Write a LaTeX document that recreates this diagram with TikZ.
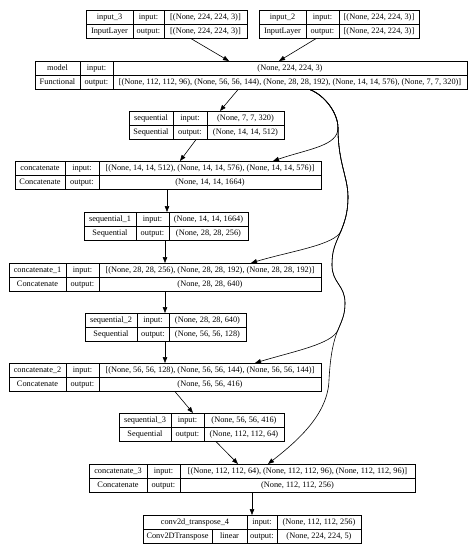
\documentclass[tikz,border=0pt]{standalone}
\usepackage{fontspec}
\setmainfont{Liberation Serif}
\usetikzlibrary{arrows.meta,calc}
\tikzset{
  frame/.style={draw=black, line width=0.6pt, fill=white, inner sep=0pt},
  cell/.style={inner sep=0pt, text height=6pt, text depth=2pt, font=\fontsize{8.3}{10}\selectfont},
  rule/.style={line width=0.6pt},
  edge/.style={line width=0.6pt, -{Triangle[length=6pt,width=4.5pt]}},
}
\def\layerparse#1,#2,#3,#4,#5\relax{\def\xa{#1}\def\xb{#2}\def\xc{#3}\def\xd{#4}\def\yt{#5}}
\newcommand\layer[6]{%
  \layerparse#2\relax
  \node[frame, minimum width={(\xd-\xa)*1pt}, minimum height=28pt, anchor=north west] (#1) at (\xa,\yt) {};
  \draw[rule] (\xb,\yt) -- (\xb,\yt+28) (\xc,\yt) -- (\xc,\yt+28) (\xa,\yt+14) -- (\xd,\yt+14);
  \node[cell] (#1-n) at ({(\xa+\xb)/2},\yt+7) {#3};
  \node[cell] (#1-t) at ({(\xa+\xb)/2},\yt+21) {#4};
  \node[cell] (#1-i) at ({(\xb+\xc)/2},\yt+7) {input:};
  \node[cell] (#1-o) at ({(\xb+\xc)/2},\yt+21) {output:};
  \node[cell] (#1-iv) at ({(\xc+\xd)/2},\yt+7) {#5};
  \node[cell] (#1-ov) at ({(\xc+\xd)/2},\yt+21) {#6};
}
\begin{document}
\begin{tikzpicture}[x=1pt,y=-1pt]
\useasboundingbox (0,0) rectangle (476,550);

\layer{in3}{86,133,164,247,10}{input\_3}{InputLayer}{[(None, 224, 224, 3)]}{[(None, 224, 224, 3)]}
\layer{in2}{259,306,339,419,10}{input\_2}{InputLayer}{[(None, 224, 224, 3)]}{[(None, 224, 224, 3)]}
\layer{model}{35,80,113,467,61}{model}{Functional}{(None, 224, 224, 3)}{[(None, 112, 112, 96), (None, 56, 56, 144), (None, 28, 28, 192), (None, 14, 14, 576), (None, 7, 7, 320)]}
\layer{seq0}{129,173,207,284,111}{sequential}{Sequential}{(None, 7, 7, 320)}{(None, 14, 14, 512)}
\layer{cat0}{15,65,99,321,161}{concatenate}{Concatenate}{[(None, 14, 14, 512), (None, 14, 14, 576), (None, 14, 14, 576)]}{(None, 14, 14, 1664)}
\layer{seq1}{84,136,169,248,212}{sequential\_1}{Sequential}{(None, 14, 14, 1664)}{(None, 28, 28, 256)}
\layer{cat1}{9,66,99,321,263}{concatenate\_1}{Concatenate}{[(None, 28, 28, 256), (None, 28, 28, 192), (None, 28, 28, 192)]}{(None, 28, 28, 640)}
\layer{seq2}{85,137,169,246,313}{sequential\_2}{Sequential}{(None, 28, 28, 640)}{(None, 56, 56, 128)}
\layer{cat2}{9,66,99,321,363}{concatenate\_2}{Concatenate}{[(None, 56, 56, 128), (None, 56, 56, 144), (None, 56, 56, 144)]}{(None, 56, 56, 416)}
\layer{seq3}{119,171,204,284,413}{sequential\_3}{Sequential}{(None, 56, 56, 416)}{(None, 112, 112, 64)}
\layer{cat3}{89,147,180,415,464}{concatenate\_3}{Concatenate}{[(None, 112, 112, 64), (None, 112, 112, 96), (None, 112, 112, 96)]}{(None, 112, 112, 256)}

% conv2d_transpose_4
\node[frame, minimum width=218pt, minimum height=28pt, anchor=north west] (conv) at (143,515) {};
\draw[rule] (247,515) -- (247,543) (277,515) -- (277,543) (212,529) -- (212,543) (143,529) -- (361,529);
\node[cell] (conv-n) at (195,522) {conv2d\_transpose\_4};
\node[cell] (conv-t) at (177.5,536) {Conv2DTranspose};
\node[cell] (conv-a) at (229.5,536) {linear};
\node[cell] (conv-i) at (262,522) {input:};
\node[cell] (conv-o) at (262,536) {output:};
\node[cell] (conv-iv) at (319,522) {(None, 112, 112, 256)};
\node[cell] (conv-ov) at (319,536) {(None, 224, 224, 5)};

% straight edges
\draw[edge] ($(in3.south west)+(105,0)$) -- ($(model.north west)+(194,0)$);
\draw[edge] ($(in2.south west)+(57,0)$) -- ($(model.north west)+(244,0)$);
\draw[edge] ($(model.south west)+(203,0)$) -- ($(seq0.north west)+(91,0)$);
\draw[edge] ($(seq0.south west)+(67,0)$) -- ($(cat0.north west)+(165,0)$);
\draw[edge] ($(cat0.south west)+(152,0)$) -- ($(seq1.north west)+(83,0)$);
\draw[edge] ($(seq1.south west)+(81,0)$) -- ($(cat1.north west)+(156,0)$);
\draw[edge] ($(cat1.south west)+(156,0)$) -- ($(seq2.north west)+(80,0)$);
\draw[edge] ($(seq2.south west)+(80,0)$) -- ($(cat2.north west)+(156,0)$);
\draw[edge] ($(cat2.south west)+(166,0)$) -- ($(seq3.north west)+(74,0)$);
\draw[edge] ($(seq3.south west)+(97,0)$) -- ($(cat3.north west)+(149,0)$);
\draw[edge] ($(cat3.south west)+(163,0)$) -- ($(conv.north west)+(109,0)$);

% skip connections from model
\coordinate (ms) at ($(model.south west)+(275,0)$);
\coordinate (e0) at ($(cat0.north west)+(258,0)$);
\coordinate (e1) at ($(cat1.north west)+(242,0)$);
\coordinate (e2) at ($(cat2.north west)+(246,0)$);
\coordinate (e3) at ($(cat3.north west)+(179,0)$);
\coordinate (a3) at (338,128);
\coordinate (t3) at (348,197);
\coordinate (t4) at (341,231);
\coordinate (t6) at (332,265);
\coordinate (t8) at (345,303);
\coordinate (t9) at (338,330);
\coordinate (t11) at (329,380);

\draw[edge] (ms) .. controls +(15,6) and +(0,-15) .. (a3)
  .. controls +(0,18) and +(35,-12) .. (e0);
\draw[edge] (ms) .. controls +(15,6) and +(0,-15) .. (a3)
  .. controls +(0,35) and +(0,-20) .. (t3)
  .. controls +(0,15) and +(4,-10) .. (t4)
  .. controls +(-6,14) and +(40,-12) .. (e1);
\draw[edge] (ms) .. controls +(15,6) and +(0,-15) .. (a3)
  .. controls +(0,35) and +(0,-20) .. (t3)
  .. controls +(0,15) and +(4,-10) .. (t4)
  .. controls +(-6,14) and +(0,-15) .. (t6)
  .. controls +(0,18) and +(0,-18) .. (t8)
  .. controls +(0,12) and +(4,-10) .. (t9)
  .. controls +(-6,14) and +(40,-12) .. (e2);
\draw[edge] (ms) .. controls +(15,6) and +(0,-15) .. (a3)
  .. controls +(0,35) and +(0,-20) .. (t3)
  .. controls +(0,15) and +(4,-10) .. (t4)
  .. controls +(-6,14) and +(0,-15) .. (t6)
  .. controls +(0,18) and +(0,-18) .. (t8)
  .. controls +(0,12) and +(4,-10) .. (t9)
  .. controls +(-6,14) and +(1,-18) .. (t11)
  .. controls +(-1,35) and +(28,-22) .. (e3);
\end{tikzpicture}
\end{document}
